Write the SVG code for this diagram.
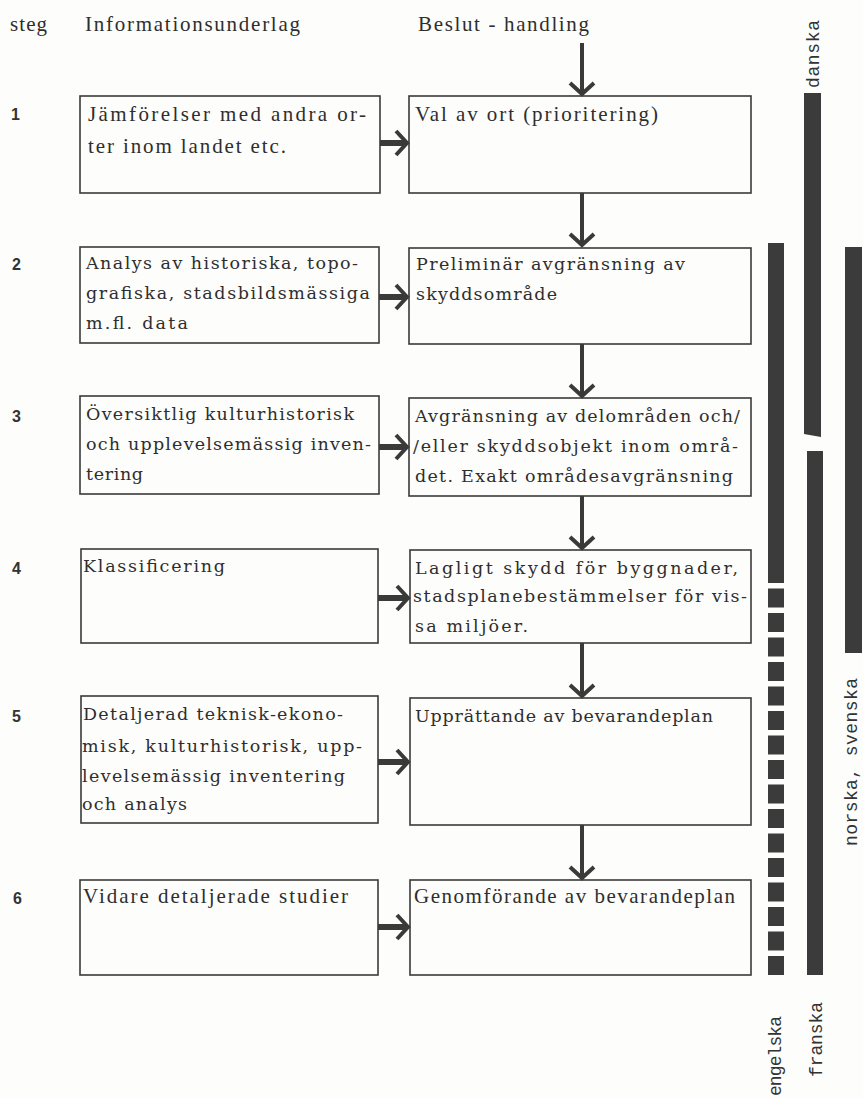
<svg xmlns="http://www.w3.org/2000/svg" width="863" height="1098" viewBox="0 0 863 1098">
<defs>
<style>
.bg{fill:#fdfdfb}
.box{fill:none;stroke:#3a3a3a;stroke-width:1.6}
.tw{font-family:"DejaVu Serif","Liberation Serif",serif;font-size:17.5px;fill:#2e2e2e}
.cn{font-family:"Liberation Serif","Times New Roman",serif;font-size:21px;fill:#2e2e2e}
.num{font-family:"Liberation Sans","DejaVu Sans",sans-serif;font-weight:bold;font-size:16px;fill:#333}
.mono{font-family:"Liberation Mono","DejaVu Sans Mono",monospace;font-size:18px;fill:#333}
.bar{fill:#3b3b3b}
.hsh{stroke:#3a3a3a;stroke-width:6;fill:none}
.vsh{stroke:#3a3a3a;stroke-width:4;fill:none}
</style>
<marker id="hd" markerUnits="userSpaceOnUse" markerWidth="30" markerHeight="30" refX="-2" refY="0" orient="auto" overflow="visible">
<path d="M-11,-12 L0,0 L-11,12" fill="none" stroke="#3a3a3a" stroke-width="4" stroke-linejoin="miter"/>
</marker>
</defs>
<rect class="bg" x="0" y="0" width="863" height="1098"/>

<g id="header">
<text class="cn" x="10" y="31" textLength="37">steg</text>
<text class="cn" x="85" y="31" textLength="215">Informationsunderlag</text>
<text class="cn" x="418" y="31" textLength="171">Beslut - handling</text>
</g>

<g id="steps">
<text class="num" x="11" y="120">1</text>
<text class="num" x="12" y="270">2</text>
<text class="num" x="12" y="422">3</text>
<text class="num" x="12" y="574">4</text>
<text class="num" x="12" y="722">5</text>
<text class="num" x="13" y="904">6</text>
</g>

<g id="info1">
<rect class="box" x="80" y="96" width="300" height="97"/>
<text class="cn" x="88" y="121" textLength="278">Jämförelser med andra or-</text>
<text class="cn" x="88" y="153" textLength="198">ter inom landet etc.</text>
</g>
<g id="beslut1">
<rect class="box" x="409" y="96" width="342" height="97"/>
<text class="cn" x="415" y="121" textLength="243">Val av ort (prioritering)</text>
</g>

<g id="info2">
<rect class="box" x="80" y="247" width="299" height="96"/>
<text class="tw" x="86" y="269" textLength="272">Analys av historiska, topo-</text>
<text class="tw" x="86" y="299" textLength="284">grafiska, stadsbildsmässiga</text>
<text class="tw" x="86" y="329" textLength="102">m.fl. data</text>
</g>
<g id="beslut2">
<rect class="box" x="409" y="248" width="342" height="96"/>
<text class="tw" x="416" y="270" textLength="269">Preliminär avgränsning av</text>
<text class="tw" x="416" y="300" textLength="141">skyddsområde</text>
</g>

<g id="info3">
<rect class="box" x="80" y="396" width="299" height="98"/>
<text class="tw" x="86" y="420" textLength="268">Översiktlig kulturhistorisk</text>
<text class="tw" x="86" y="450" textLength="285">och upplevelsemässig inven-</text>
<text class="tw" x="86" y="480" textLength="57">tering</text>
</g>
<g id="beslut3">
<rect class="box" x="409" y="398" width="342" height="98"/>
<text class="tw" x="415" y="422" textLength="325">Avgränsning av delområden och/</text>
<text class="tw" x="413" y="452" textLength="325">/eller skyddsobjekt inom områ-</text>
<text class="tw" x="415" y="482" textLength="318">det. Exakt områdesavgränsning</text>
</g>

<g id="info4">
<rect class="box" x="81" y="549" width="297" height="94"/>
<text class="tw" x="83" y="572" textLength="142">Klassificering</text>
</g>
<g id="beslut4">
<rect class="box" x="410" y="550" width="341" height="93"/>
<text class="tw" x="415" y="574" textLength="323">Lagligt skydd för byggnader,</text>
<text class="tw" x="413" y="602" textLength="334">stadsplanebestämmelser för vis-</text>
<text class="tw" x="415" y="632" textLength="113">sa miljöer.</text>
</g>

<g id="info5">
<rect class="box" x="81" y="696" width="297" height="127"/>
<text class="tw" x="83" y="720" textLength="260">Detaljerad teknisk-ekono-</text>
<text class="tw" x="82" y="752" textLength="280">misk, kulturhistorisk, upp-</text>
<text class="tw" x="82" y="782" textLength="263">levelsemässig inventering</text>
<text class="tw" x="82" y="810" textLength="105">och analys</text>
</g>
<g id="beslut5">
<rect class="box" x="410" y="698" width="341" height="127"/>
<text class="tw" x="415" y="722" textLength="298">Upprättande av bevarandeplan</text>
</g>

<g id="info6">
<rect class="box" x="80" y="880" width="298" height="95"/>
<text class="cn" x="83" y="903" textLength="265">Vidare detaljerade studier</text>
</g>
<g id="beslut6">
<rect class="box" x="410" y="880" width="341" height="95"/>
<text class="cn" x="414" y="903" textLength="321">Genomförande av bevarandeplan</text>
</g>

<g id="connectors">
<line class="vsh" x1="582" y1="43" x2="582" y2="92" marker-end="url(#hd)"/>
<line class="vsh" x1="582" y1="193" x2="582" y2="243" marker-end="url(#hd)"/>
<line class="vsh" x1="582" y1="344" x2="582" y2="394" marker-end="url(#hd)"/>
<line class="vsh" x1="582" y1="496" x2="582" y2="546" marker-end="url(#hd)"/>
<line class="vsh" x1="582" y1="643" x2="582" y2="694" marker-end="url(#hd)"/>
<line class="vsh" x1="582" y1="825" x2="582" y2="876" marker-end="url(#hd)"/>
<line class="hsh" x1="380" y1="143" x2="405" y2="143" marker-end="url(#hd)"/>
<line class="hsh" x1="379" y1="297" x2="405" y2="297" marker-end="url(#hd)"/>
<line class="hsh" x1="379" y1="447" x2="405" y2="447" marker-end="url(#hd)"/>
<line class="hsh" x1="378" y1="598" x2="406" y2="598" marker-end="url(#hd)"/>
<line class="hsh" x1="378" y1="762" x2="406" y2="762" marker-end="url(#hd)"/>
<line class="hsh" x1="378" y1="927" x2="406" y2="927" marker-end="url(#hd)"/>
</g>

<g id="language-bars">
<rect class="bar" x="768" y="243" width="16" height="340"/>
<line x1="776" y1="588.5" x2="776" y2="975" stroke="#3b3b3b" stroke-width="16" stroke-dasharray="19 5.5"/>
<polygon class="bar" points="804,93 821,93 821,437 804,434"/>
<rect class="bar" x="807" y="451" width="16" height="524"/>
<rect class="bar" x="845" y="247" width="17" height="406"/>
<text class="mono" transform="translate(819,88) rotate(-90)" textLength="68">danska</text>
<text class="mono" transform="translate(857,846) rotate(-90)" textLength="168">norska, svenska</text>
<text class="mono" transform="translate(822,1077) rotate(-90)" textLength="75">franska</text>
<text class="mono" transform="translate(781,1096) rotate(-90)" textLength="80">engelska</text>
</g>
</svg>
